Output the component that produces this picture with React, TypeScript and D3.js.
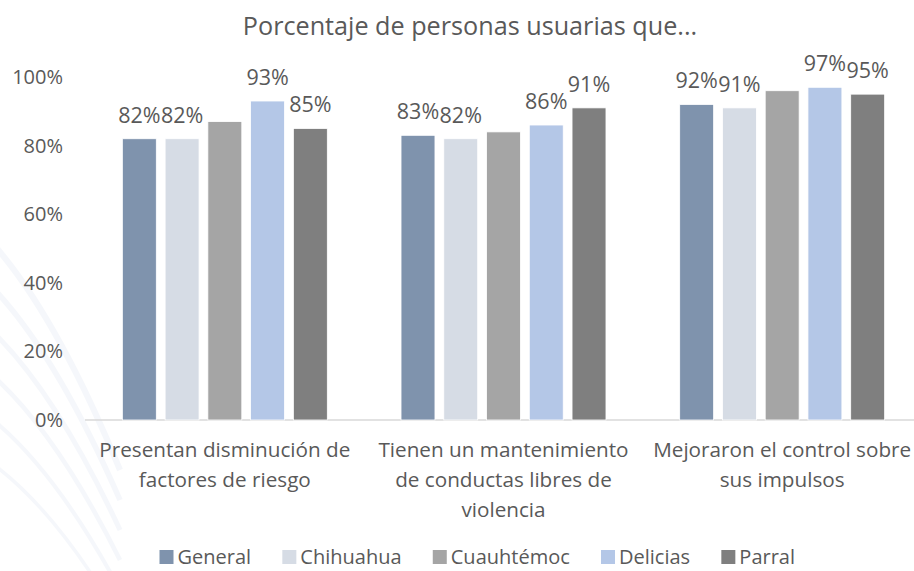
import React, { useEffect, useRef } from "react";
import * as d3 from "d3";

const title = "Porcentaje de personas usuarias que...";
const categories = [
  "Presentan disminución de factores de riesgo",
  "Tienen un mantenimiento de conductas libres de violencia",
  "Mejoraron el control sobre sus impulsos",
];
const categoryLines = [
  ["Presentan disminución de", "factores de riesgo"],
  ["Tienen un mantenimiento", "de conductas libres de", "violencia"],
  ["Mejoraron el control sobre", "sus impulsos"],
];
const series = ["General", "Chihuahua", "Cuauhtémoc", "Delicias", "Parral"];
const general = [82, 83, 92];
const chihuahua = [82, 82, 91];
const cuauhtemoc = [87, 84, 96];
const delicias = [93, 86, 97];
const parral = [85, 91, 95];
const yTicks = [0, 20, 40, 60, 80, 100];
const labeledSeries = ["General", "Chihuahua", "Delicias", "Parral"];
const colors = ["#7f93ad", "#d6dce5", "#a5a5a5", "#b4c7e7", "#7f7f7f"];

const W = 914;
const H = 571;
const FONT = "'Open Sans', 'DejaVu Sans', sans-serif";
const TEXT = "#595959";

export default function App() {
  const ref = useRef<SVGSVGElement | null>(null);

  useEffect(() => {
    const svg = d3.select(ref.current);
    svg.selectAll("*").remove();

    const values = [general, chihuahua, cuauhtemoc, delicias, parral];
    const rows = categories.map((c, i) => ({
      cat: c,
      vals: series.map((s, j) => ({ s, v: values[j][i], color: colors[j] })),
    }));

    const y = d3.scaleLinear().domain([0, 100]).range([420, 77]);
    const x0 = d3.scaleBand<string>().domain(categories).range([85.5, 921.5]);
    const x1 = d3
      .scaleBand<string>()
      .domain(series)
      .range([0, x0.bandwidth()])
      .paddingInner(0.206)
      .paddingOuter(0.862);

    // background decoration (faint swooshes)
    const bg = svg.append("g").attr("opacity", 0.3);
    [0, 1, 2, 3, 4, 5].forEach((k) => {
      bg.append("path")
        .attr("d", `M -20 ${230 + k * 45} Q 50 ${300 + k * 40} 120 ${470 + k * 30}`)
        .attr("fill", "none")
        .attr("stroke", "#dfe6f2")
        .attr("stroke-width", 6 - k * 0.5);
    });

    // title
    svg.append("text")
      .attr("x", 470)
      .attr("y", 35)
      .attr("text-anchor", "middle")
      .attr("font-family", FONT)
      .attr("font-size", 25.2)
      .attr("fill", TEXT)
      .text(title);

    // y axis labels
    svg.append("g")
      .selectAll("text")
      .data(yTicks)
      .join("text")
      .attr("x", 63)
      .attr("y", (d) => y(d))
      .attr("dy", "0.35em")
      .attr("text-anchor", "end")
      .attr("font-family", FONT)
      .attr("font-size", 20)
      .attr("fill", TEXT)
      .text((d) => `${d}%`);

    // baseline
    svg.append("line")
      .attr("x1", 85)
      .attr("x2", W)
      .attr("y1", y(0))
      .attr("y2", y(0))
      .attr("stroke", "#d9d9d9")
      .attr("stroke-width", 1.5);

    // bars
    const groups = svg.append("g")
      .selectAll("g")
      .data(rows)
      .join("g")
      .attr("transform", (d) => `translate(${x0(d.cat)},0)`);

    groups.selectAll("rect")
      .data((d) => d.vals)
      .join("rect")
      .attr("x", (d) => x1(d.s)!)
      .attr("width", x1.bandwidth())
      .attr("y", (d) => y(d.v))
      .attr("height", (d) => y(0) - y(d.v))
      .attr("fill", (d) => d.color)
      .attr("stroke", "#ffffff")
      .attr("stroke-width", 0.8);

    groups.selectAll("text.lbl")
      .data((d) => d.vals.filter((v) => labeledSeries.includes(v.s)))
      .join("text")
      .attr("class", "lbl")
      .attr("x", (d) => x1(d.s)! + x1.bandwidth() / 2)
      .attr("y", (d) => y(d.v) - 16)
      .attr("text-anchor", "middle")
      .attr("font-family", FONT)
      .attr("font-size", 21.5)
      .attr("fill", TEXT)
      .text((d) => `${d.v}%`);

    // category labels
    const cg = svg.append("g");
    categories.forEach((c, i) => {
      const cxm = x0(c)! + x0.bandwidth() / 2;
      const t = cg.append("text")
        .attr("x", cxm)
        .attr("y", 457)
        .attr("text-anchor", "middle")
        .attr("font-family", FONT)
        .attr("font-size", 20.7)
        .attr("fill", TEXT);
      categoryLines[i].forEach((line, k) => {
        t.append("tspan")
          .attr("x", cxm)
          .attr("y", 457 + k * 30)
          .text(line);
      });
    });

    // legend
    const lg = svg.append("g");
    const items = series.map((s, i) => {
      const g = lg.append("g");
      g.append("rect")
        .attr("x", 0)
        .attr("y", -7)
        .attr("width", 14)
        .attr("height", 14)
        .attr("fill", colors[i]);
      const t = g.append("text")
        .attr("x", 18)
        .attr("y", 0)
        .attr("dy", "0.35em")
        .attr("font-family", FONT)
        .attr("font-size", 20)
        .attr("fill", TEXT)
        .text(s);
      const w = (t.node() as SVGTextElement).getComputedTextLength();
      return { g, w: 18 + w };
    });
    const startX = 159.5;
    const endX = 795;
    const totalW = d3.sum(items, (d) => d.w);
    const gap = (endX - startX - totalW) / (items.length - 1);
    let cx = startX;
    items.forEach((it) => {
      it.g.attr("transform", `translate(${cx},557)`);
      cx += it.w + gap;
    });
  }, []);

  return (
    <svg
      ref={ref}
      width={W}
      height={H}
      style={{ position: "absolute", left: 0, top: 0, background: "#ffffff" }}
    />
  );
}
